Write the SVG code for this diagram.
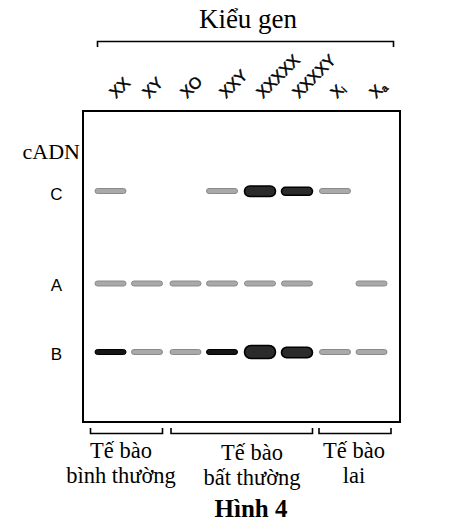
<svg xmlns="http://www.w3.org/2000/svg" width="464" height="530" viewBox="0 0 464 530">
<style>
.serif{font-family:"Liberation Serif","Times New Roman",serif;fill:#000}
.sans{font-family:"Liberation Sans",Arial,sans-serif;fill:#000}
.lane{font-family:"Liberation Sans",Arial,sans-serif;font-size:16px;fill:#000;stroke:#000;stroke-width:0.5}
.br{fill:none;stroke:#000;stroke-width:1.6}
.g{fill:#a9a9a9;stroke:#8a8a8a;stroke-width:1}
.k{fill:#151515;stroke:#000;stroke-width:1}
.kk{fill:#2b2b2b;stroke:#000;stroke-width:1.6}
</style>
<rect width="464" height="530" fill="#fff"/>
<g id="title">
<text class="serif" x="248" y="28" font-size="27" text-anchor="middle">Kiểu gen</text>
<path class="br" d="M97.5,47 V41.5 H393.5 V47"/>
</g>
<g id="lane-labels">
<text class="lane" transform="translate(116,99) rotate(-45)">XX</text>
<text class="lane" transform="translate(149,99) rotate(-45)">XY</text>
<text class="lane" transform="translate(187,99) rotate(-45)">XO</text>
<text class="lane" transform="translate(226,99) rotate(-45)">XXY</text>
<text class="lane" transform="translate(263,99) rotate(-45)">XXXXX</text>
<text class="lane" transform="translate(299,99) rotate(-45)">XXXXY</text>
<text class="lane" transform="translate(337,99) rotate(-45)">X<tspan font-size="10" dy="2">i</tspan></text>
<text class="lane" transform="translate(376,99) rotate(-45)">X<tspan font-size="10" dy="2">a</tspan></text>
</g>
<g id="axis-labels">
<text class="serif" x="22.5" y="158.5" font-size="22">cADN</text>
<text class="sans" x="56.5" y="199.5" font-size="17" text-anchor="middle">C</text>
<text class="sans" x="56.5" y="290.5" font-size="17" text-anchor="middle">A</text>
<text class="sans" x="56.5" y="359.5" font-size="17" text-anchor="middle">B</text>
</g>
<g id="gel">
<rect x="83" y="111" width="317" height="311" fill="none" stroke="#000" stroke-width="2"/>
</g>
<g id="band-C">
<rect class="g" x="95" y="188.5" width="31" height="5" rx="2.5"/>
<rect class="g" x="206.5" y="188.5" width="31" height="5" rx="2.5"/>
<rect class="kk" x="244.5" y="186" width="31" height="10.5" rx="5.2"/>
<rect class="kk" x="281.5" y="187.3" width="31" height="8" rx="4"/>
<rect class="g" x="319.5" y="188.5" width="31" height="5" rx="2.5"/>
</g>
<g id="band-A">
<rect class="g" x="95" y="281" width="31" height="5" rx="2.5"/>
<rect class="g" x="131.5" y="281" width="31" height="5" rx="2.5"/>
<rect class="g" x="170" y="281" width="31" height="5" rx="2.5"/>
<rect class="g" x="206.5" y="281" width="31" height="5" rx="2.5"/>
<rect class="g" x="244.5" y="281" width="31" height="5" rx="2.5"/>
<rect class="g" x="281.5" y="281" width="31" height="5" rx="2.5"/>
<rect class="g" x="356" y="281" width="31" height="5" rx="2.5"/>
</g>
<g id="band-B">
<rect class="k" x="95" y="349.5" width="31" height="5" rx="2.5"/>
<rect class="g" x="131.5" y="349.5" width="31" height="5" rx="2.5"/>
<rect class="g" x="170" y="349.5" width="31" height="5" rx="2.5"/>
<rect class="k" x="206.5" y="349.5" width="31" height="5" rx="2.5"/>
<rect class="kk" x="244.5" y="345.5" width="31" height="13" rx="6.5"/>
<rect class="kk" x="281.5" y="347.3" width="31" height="10.4" rx="5.2"/>
<rect class="g" x="319.5" y="349.5" width="31" height="5" rx="2.5"/>
<rect class="g" x="356" y="349.5" width="31" height="5" rx="2.5"/>
</g>
<g id="groups">
<path class="br" d="M90.5,428 V433.5 H162.5 V428"/>
<path class="br" d="M171,428 V433.5 H312.5 V428"/>
<path class="br" d="M319,428 V433.5 H391 V428"/>
<text class="serif" font-size="22.5" text-anchor="middle"><tspan x="121" y="458">Tế bào</tspan><tspan x="121" y="483">bình thường</tspan></text>
<text class="serif" font-size="22.5" text-anchor="middle"><tspan x="252" y="459.5">Tế bào</tspan><tspan x="252" y="485">bất thường</tspan></text>
<text class="serif" font-size="22.5" text-anchor="middle"><tspan x="354" y="458">Tế bào</tspan><tspan x="354" y="483">lai</tspan></text>
</g>
<g id="caption">
<text class="serif" x="251" y="517" font-size="25" font-weight="bold" text-anchor="middle">Hình 4</text>
</g>
</svg>
